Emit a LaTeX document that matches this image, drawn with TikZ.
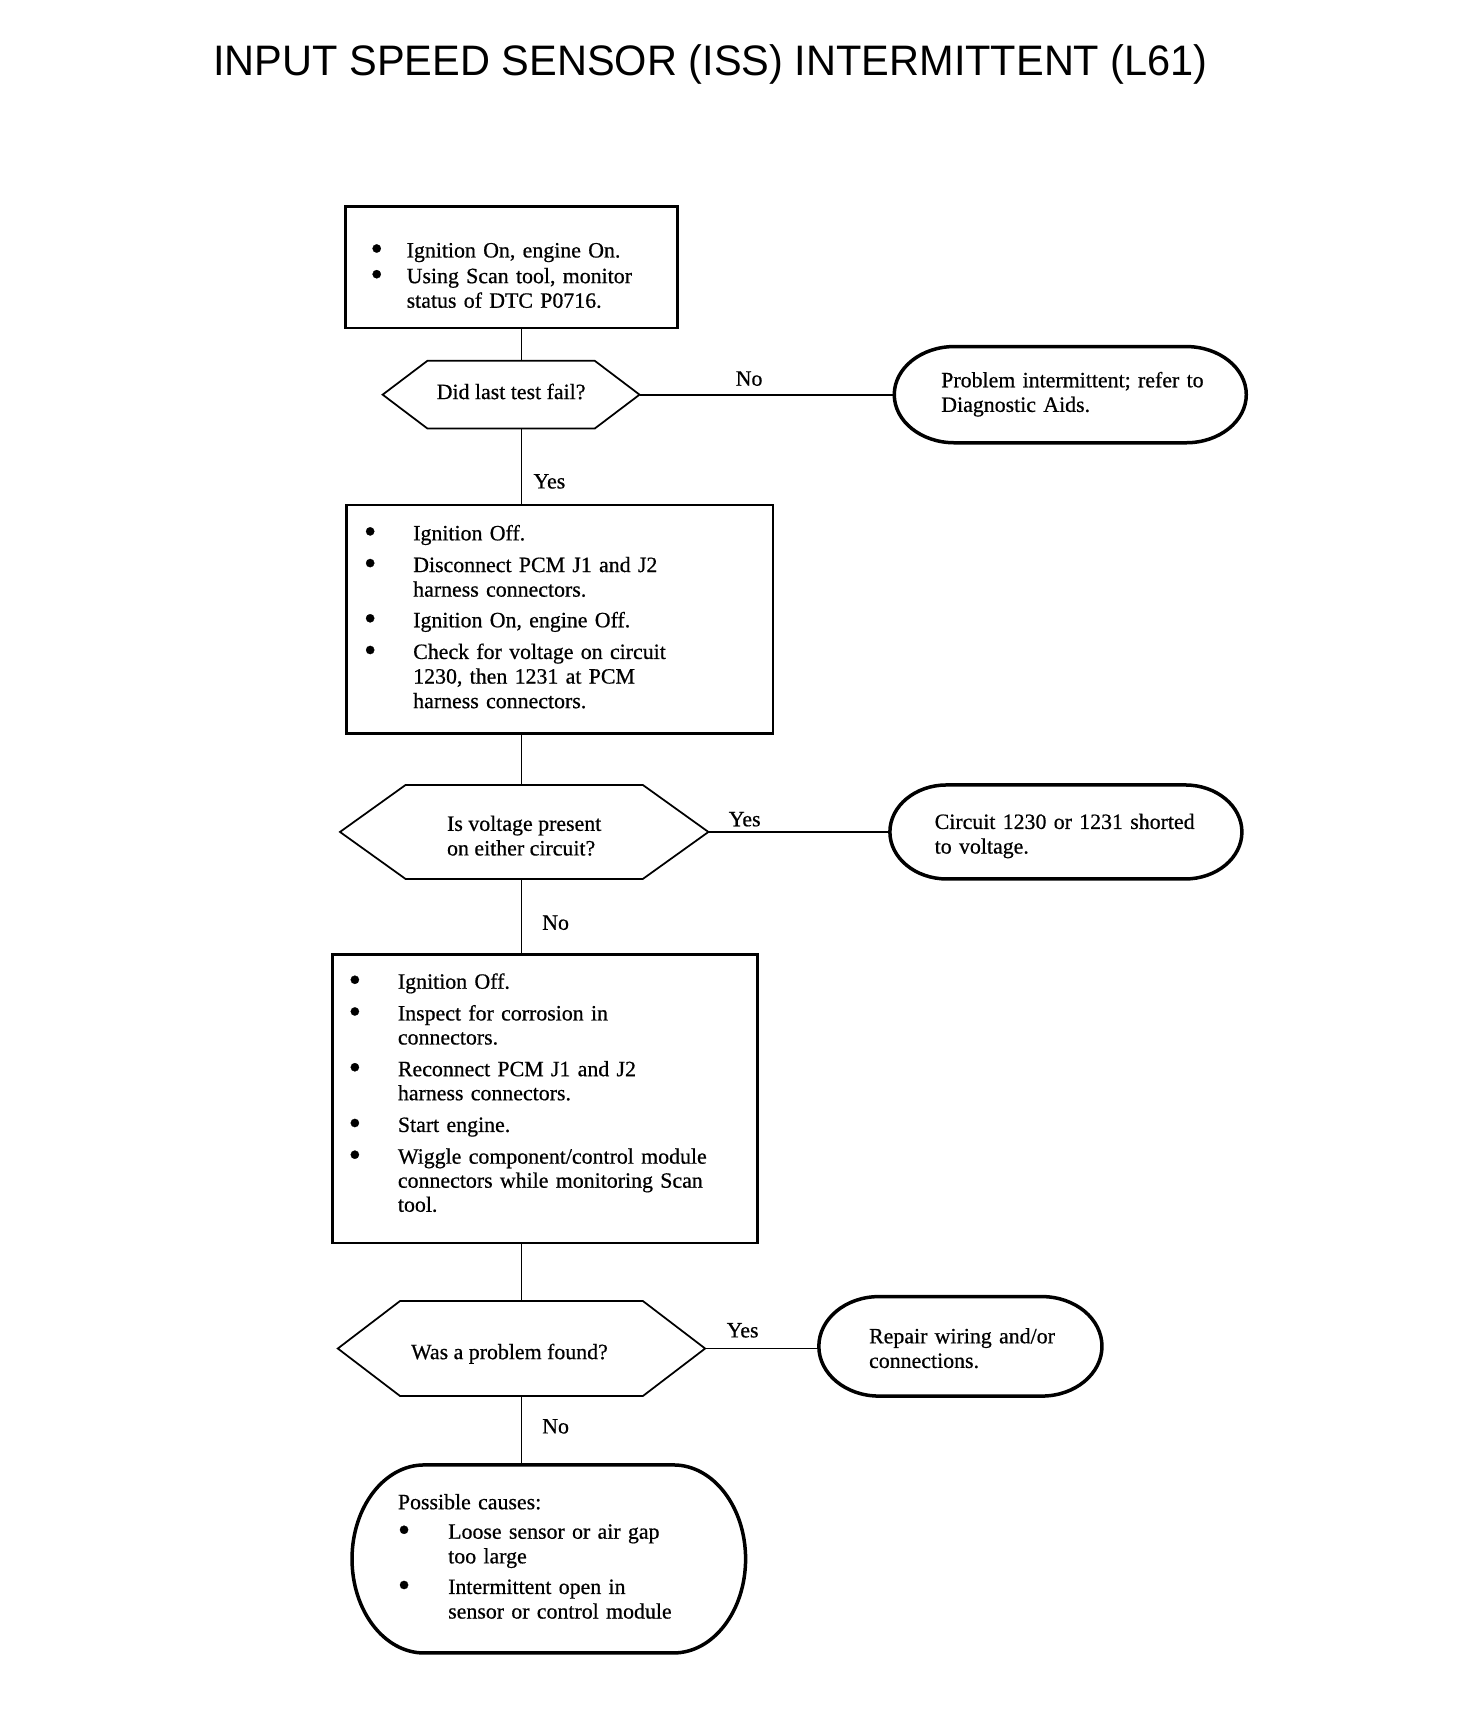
\documentclass[tikz,border=0pt]{standalone}
\usepackage{fontspec}
\setmainfont[FakeBold=0.6]{Liberation Serif}
\newfontfamily\titlefont{Liberation Sans}
\usepackage{graphicx}
\tikzset{
  every node/.style={font=\fontsize{20pt}{22.5pt}\selectfont, outer sep=0pt},
  box/.style={draw, line width=2.4pt, rectangle, inner ysep=0pt, align=left},
  term/.style={rectangle, inner ysep=0pt, align=left},
  decision/.style={rectangle, inner sep=0pt},
  termline/.style={line width=3.2pt},
  hexline/.style={line width=1.6pt, line join=miter},
  conn/.style={line width=1.6pt},
  lbl/.style={inner sep=0pt}
}
\newcommand\bul{\raisebox{-2.4pt}[0pt][0pt]{\scalebox{1.6}{\textbullet}}}
\newcommand\termoutline[3]{\draw[termline] ([xshift=#2]#1.north west) -- ([xshift=-#2]#1.north east) arc[start angle=90, end angle=-90, x radius=#2, y radius=#3] -- ([xshift=#2]#1.south west) arc[start angle=270, end angle=90, x radius=#2, y radius=#3] -- cycle;}
\newcommand\hexoutline[2]{\draw[hexline] (#1.west) -- ([xshift=#2]#1.north west) -- ([xshift=-#2]#1.north east) -- (#1.east) -- ([xshift=-#2]#1.south east) -- ([xshift=#2]#1.south west) -- cycle;}
\begin{document}
\begin{tikzpicture}[x=1pt, y=1pt]
\path[use as bounding box] (0,0) rectangle (1332,-1566);

\node[font=\titlefont\fontsize{39pt}{39pt}\selectfont, anchor=base] (title) at (650,-69) {\scalebox{0.974}[1]{INPUT SPEED SENSOR (ISS) INTERMITTENT (L61)}};

% step 1
\node[box, minimum width=304pt, minimum height=111pt, inner xsep=23pt, text width=258pt] (b1) at (468,-244.5) {%
\begin{tabular}{@{}p{33pt}@{}l@{}}
\bul\rule{0pt}{34.75pt} & Ignition On, engine On.\\[1pt]
\bul & Using Scan tool, monitor\\
 & status of DTC P0716.
\end{tabular}};

\node[decision, minimum width=235pt, minimum height=62pt, text depth=6pt] (h1) at (467.5,-361) {Did last test fail?};
\hexoutline{h1}{41pt}

\node[term, minimum width=322pt, minimum height=88pt, inner xsep=43pt, text width=236pt] (e1) at (979,-361) {%
\begin{tabular}{@{}l@{}}
Problem intermittent; refer to\\
Diagnostic Aids.
\end{tabular}};
\termoutline{e1}{55pt}{44pt}

% step 2
\node[box, minimum width=390pt, minimum height=209pt, inner xsep=16pt, text width=358pt] (b2) at (512,-566.5) {%
\begin{tabular}{@{}p{45pt}@{}l@{}}
\bul & Ignition Off.\\[6.5pt]
\bul & Disconnect PCM J1 and J2\\
 & harness connectors.\\[5.5pt]
\bul & Ignition On, engine Off.\\[6.5pt]
\bul & Check for voltage on circuit\\
 & 1230, then 1231 at PCM\\
 & harness connectors.
\end{tabular}};

\node[decision, minimum width=337pt, minimum height=86pt, align=left] (h2) at (479.5,-761) {\rule{0pt}{20.7pt}Is voltage present\\on either circuit?};
\hexoutline{h2}{60pt}

\node[term, minimum width=322pt, minimum height=86pt, inner xsep=41pt, text width=240pt] (e2) at (975,-761) {%
\begin{tabular}{@{}l@{}}
\rule{0pt}{23.75pt}Circuit 1230 or 1231 shorted\\
to voltage.
\end{tabular}};
\termoutline{e2}{52pt}{43pt}

% step 3
\node[box, minimum width=389pt, minimum height=264pt, inner xsep=15pt, text width=359pt, font=\fontsize{20pt}{22pt}\selectfont] (b3) at (498.5,-1005) {%
\begin{tabular}{@{}p{45pt}@{}l@{}}
\bul & Ignition Off.\\[7pt]
\bul & Inspect for corrosion in\\
 & connectors.\\[7pt]
\bul & Reconnect PCM J1 and J2\\
 & harness connectors.\\[7pt]
\bul & Start engine.\\[7pt]
\bul & Wiggle component/control module\\
 & connectors while monitoring Scan\\
 & tool.\\[6pt]
\end{tabular}};

\node[decision, minimum width=336pt, minimum height=87pt, text height=23.7pt] (h3) at (477,-1233.5) {Was a problem found?\hspace*{22pt}};
\hexoutline{h3}{57pt}

\node[term, minimum width=259pt, minimum height=91pt, inner xsep=46pt, text width=167pt] (e3) at (878.5,-1231.5) {%
\begin{tabular}{@{}l@{}}
\rule{0pt}{23.75pt}Repair wiring and/or\\
connections.
\end{tabular}};
\termoutline{e3}{55pt}{45.5pt}

\node[term, minimum width=360pt, minimum height=172pt, inner xsep=42pt, text width=276pt] (e4) at (502,-1426) {%
\begin{tabular}{@{}p{46pt}@{}l@{}}
\multicolumn{2}{@{}l@{}}{Possible causes:}\\[4.5pt]
\bul & Loose sensor or air gap\\
 & too large\\[5.5pt]
\bul & Intermittent open in\\
 & sensor or control module
\end{tabular}};
\termoutline{e4}{66pt}{86pt}

% connectors
\coordinate (col) at (477,0);
\draw[conn] (b1.south -| col) -- (h1.north -| col);
\draw[conn] (h1.south -| col) -- node[lbl, right=11pt, pos=0.69] (l2) {Yes} (b2.north -| col);
\draw[conn] (b2.south -| col) -- (h2.north -| col);
\draw[conn] (h2.south -| col) -- node[lbl, right=19pt, pos=0.58] (l4) {No} (b3.north -| col);
\draw[conn] (b3.south -| col) -- (h3.north -| col);
\draw[conn] (h3.south -| col) -- node[lbl, right=19pt, pos=0.44] (l6) {No} (e4.north -| col);

\draw[conn] (h1.east) -- node[lbl, above=8pt, pos=0.43] (l1) {No} (e1.west);
\draw[conn] (h2.east) -- node[lbl, above=5pt, pos=0.2] (l3) {Yes} (e2.west);
\draw[conn] (h3.east) -- node[lbl, above=10pt, pos=0.33] (l5) {Yes} (h3.east -| e3.west);
\end{tikzpicture}
\end{document}
